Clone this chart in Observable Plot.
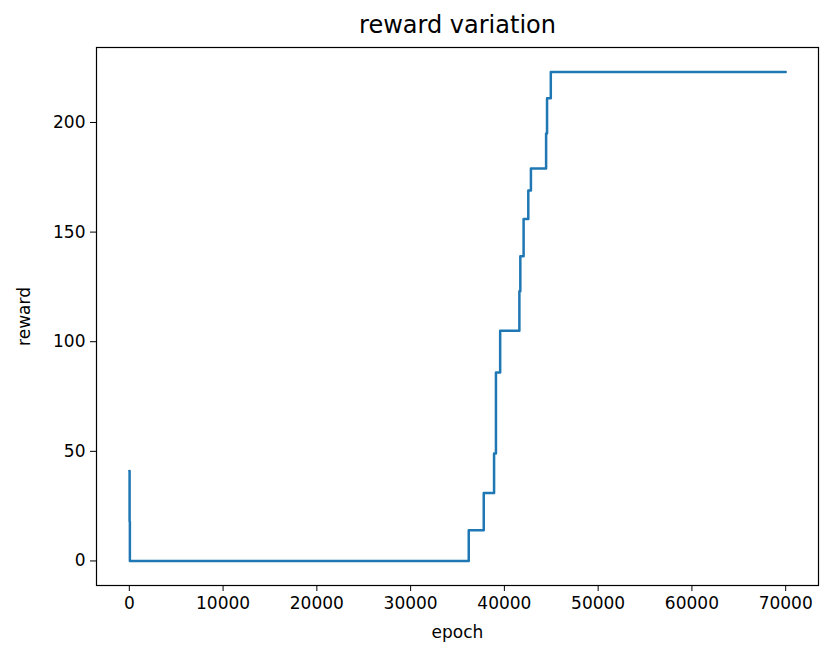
<!DOCTYPE html>
<html><head><meta charset="utf-8">
<script src="https://cdn.jsdelivr.net/npm/d3@7"></script>
<script src="https://cdn.jsdelivr.net/npm/@observablehq/plot@0.6"></script>
<style>body{margin:0;background:#fff;} svg{background:#fff;}</style>
</head><body><div id="chart"></div>
<script>
const title = "reward variation";
const epochs  = [0, 30, 60, 36200, 37800, 38900, 39100, 39550, 41600, 41700, 42050, 42550, 42830, 44450, 44550, 44950, 70000];
const rewards = [41, 18, 0, 14, 31, 49, 86, 105, 123, 139, 156, 169, 179, 195, 211, 223, 223];
const xTicks = [0, 10000, 20000, 30000, 40000, 50000, 60000, 70000];
const yTicks = [0, 50, 100, 150, 200];

const data = epochs.map((e, i) => ({epoch: e, reward: rewards[i]}));

const chart = Plot.plot({
  width: 830,
  height: 662,
  marginLeft: 96,
  marginRight: 12,
  marginTop: 47,
  marginBottom: 77,
  style: {fontFamily: "DejaVu Sans", fontSize: "17px", color: "black", background: "white"},
  x: {domain: [-3500, 73500], ticks: xTicks, tickFormat: d => String(d), label: "epoch", labelAnchor: "center", labelArrow: "none", labelOffset: 52, tickSize: 6, tickPadding: 5},
  y: {domain: [-11.2, 234.2], ticks: yTicks, tickFormat: d => String(d), label: "reward", labelAnchor: "center", labelArrow: "none", labelOffset: 79, tickSize: 6, tickPadding: 5},
  marks: [
    Plot.line(data, {x: "epoch", y: "reward", curve: "step-after", stroke: "#1f77b4", strokeWidth: 2.5}),
    Plot.frame({stroke: "black", strokeWidth: 1.2}),
    Plot.text([title], {frameAnchor: "top", lineAnchor: "middle", dy: -22, fontSize: 24, fill: "black"})
  ]
});
document.getElementById("chart").appendChild(chart);
</script></body></html>
